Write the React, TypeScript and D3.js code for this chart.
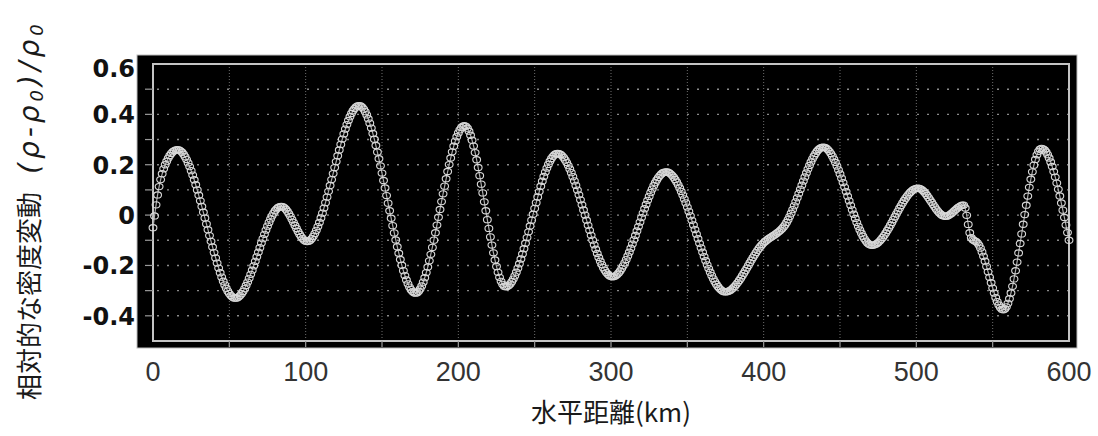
import React, { useEffect, useRef } from "react";
import * as d3 from "d3";

// Relative density fluctuation along the horizontal distance (km)
const distanceKm = [0, 3, 8, 16, 54, 84, 101, 135, 172, 204, 231, 265, 301, 336, 375, 400, 413, 439, 471, 501, 519, 531, 536, 540, 557, 582, 600];
const densityFluct = [-0.05, 0.08, 0.2, 0.26, -0.33, 0.035, -0.105, 0.435, -0.31, 0.355, -0.285, 0.245, -0.245, 0.172, -0.305, -0.11, -0.047, 0.27, -0.12, 0.107, -0.005, 0.04, -0.09, -0.11, -0.376, 0.265, -0.1];

const xTicks = [0, 100, 200, 300, 400, 500, 600];
const yTicks = [-0.4, -0.2, 0, 0.2, 0.4, 0.6];
const yTickLabels = ["-0.4", "-0.2", "0", "0.2", "0.4", "0.6"];
const xGrid = [50, 100, 150, 200, 250, 300, 350, 400, 450, 500, 550];
const yGrid = [-0.4, -0.3, -0.2, -0.1, 0, 0.1, 0.2, 0.3, 0.4, 0.5];
const xMinor = [50, 100, 150, 200, 250, 300, 350, 400, 450, 500, 550];
const yMinor = [-0.4, -0.3, -0.2, -0.1, 0, 0.1, 0.2, 0.3, 0.4, 0.5];

const W = 1098;
const H = 436;

export default function App() {
  const ringRef = useRef<SVGGElement | null>(null);
  const pathRef = useRef<SVGPathElement | null>(null);

  const x = d3.scaleLinear().domain([0, 600]).range([153, 1069]);
  const y = d3.scaleLinear().domain([-0.5, 0.6]).range([341, 64]);

  const pts = distanceKm.map((d, i) => [d, densityFluct[i]] as [number, number]);
  const line = d3
    .line<[number, number]>()
    .x((d) => x(d[0]))
    .y((d) => y(d[1]))
    .curve(d3.curveMonotoneX);
  const pathD = line(pts) || "";

  // ring markers sit on the drawn curve, one per km of distance
  useEffect(() => {
    const p = pathRef.current;
    const g = ringRef.current;
    if (!p || !g) return;
    const total = p.getTotalLength();
    const samples: { x: number; y: number }[] = [];
    for (let l = 0; l <= total; l += 0.4) {
      const pt = p.getPointAtLength(l);
      samples.push({ x: pt.x, y: pt.y });
    }
    const marks: { x: number; y: number }[] = [];
    let j = 0;
    for (let km = 0; km <= 600; km += 1) {
      const px = x(km);
      while (j < samples.length - 1 && samples[j + 1].x < px) j++;
      const a = samples[j];
      const b = samples[Math.min(j + 1, samples.length - 1)];
      const t = b.x === a.x ? 0 : (px - a.x) / (b.x - a.x);
      marks.push({ x: px, y: a.y + (b.y - a.y) * Math.max(0, Math.min(1, t)) });
    }
    d3.select(g)
      .selectAll("ellipse")
      .data(marks)
      .join("ellipse")
      .attr("cx", (d) => d.x)
      .attr("cy", (d) => d.y)
      .attr("rx", 3.9)
      .attr("ry", 3.1)
      .attr("fill", "none")
      .attr("stroke", "#d8d8d8")
      .attr("stroke-width", 1.1);
  }, [pathD]);

  const left = x(0);
  const right = x(600);
  const top = y(0.6);
  const bottom = y(-0.5);

  return (
    <svg
      width={W}
      height={H}
      style={{ position: "absolute", left: 0, top: 0, background: "#fff" }}
    >
      {/* panel */}
      <rect x={137} y={55} width={940} height={293} fill="#000" stroke="#bdbdbd" strokeWidth={1} />

      {/* dotted grid */}
      {yGrid.map((v) => (
        <line
          key={"hy" + v}
          x1={left + 4}
          x2={right}
          y1={y(v)}
          y2={y(v)}
          stroke="#8a8a8a"
          strokeWidth={1.4}
          strokeDasharray="2 8"
        />
      ))}
      {xGrid.map((v) => (
        <line
          key={"vx" + v}
          x1={x(v)}
          x2={x(v)}
          y1={top}
          y2={bottom}
          stroke="#6e6e6e"
          strokeWidth={1}
          strokeDasharray="1 2"
        />
      ))}

      {/* inner frame */}
      <rect x={left} y={top} width={right - left} height={bottom - top} fill="none" stroke="#c4c4c4" strokeWidth={2} />

      {/* ticks */}
      {yMinor.map((v) => (
        <line key={"ty" + v} x1={left - 8} x2={left} y1={y(v)} y2={y(v)} stroke="#9a9a9a" strokeWidth={1.2} />
      ))}
      {xMinor.map((v) => (
        <line key={"tx" + v} x1={x(v)} x2={x(v)} y1={bottom} y2={bottom + 6} stroke="#9a9a9a" strokeWidth={1.2} />
      ))}

      {/* data curve */}
      <path ref={pathRef} d={pathD} fill="none" stroke="#a8a8a8" strokeWidth={1.2} />
      <g ref={ringRef} />

      {/* y tick labels */}
      {yTicks.map((v, i) => (
        <text
          key={"yl" + v}
          x={135}
          y={Math.max(y(v) + 9, 77)}
          textAnchor="end"
          fontFamily="DejaVu Sans"
          fontWeight="bold"
          fontSize={24}
          fill="#111"
        >
          {yTickLabels[i]}
        </text>
      ))}

      {/* x tick labels */}
      {xTicks.map((v) => (
        <text
          key={"xl" + v}
          x={x(v)}
          y={381}
          textAnchor="middle"
          fontFamily="Liberation Sans"
          fontSize={27}
          fill="#333"
        >
          {v}
        </text>
      ))}

      {/* x axis title */}
      <text x={611} y={422} textAnchor="middle" fontFamily="Noto Sans CJK JP" fontSize={26} fill="#1a1a1a">
        水平距離(km)
      </text>

      {/* y axis title */}
      <g transform="translate(39,400) rotate(-90)">
        <text x={0} y={0} fontFamily="Noto Sans CJK JP" fontSize={26} fill="#1a1a1a">
          相対的な密度変動
        </text>
        <text
          x={226}
          y={0}
          fontFamily="DejaVu Sans"
          fontStyle="italic"
          fontSize={28}
          fill="#1a1a1a"
          letterSpacing={4}
        >
          (ρ-ρ
          <tspan fontSize={18} dy={4}>0</tspan>
          <tspan dy={-4}>)/ρ</tspan>
          <tspan fontSize={18} dy={4}>0</tspan>
        </text>
      </g>
    </svg>
  );
}
